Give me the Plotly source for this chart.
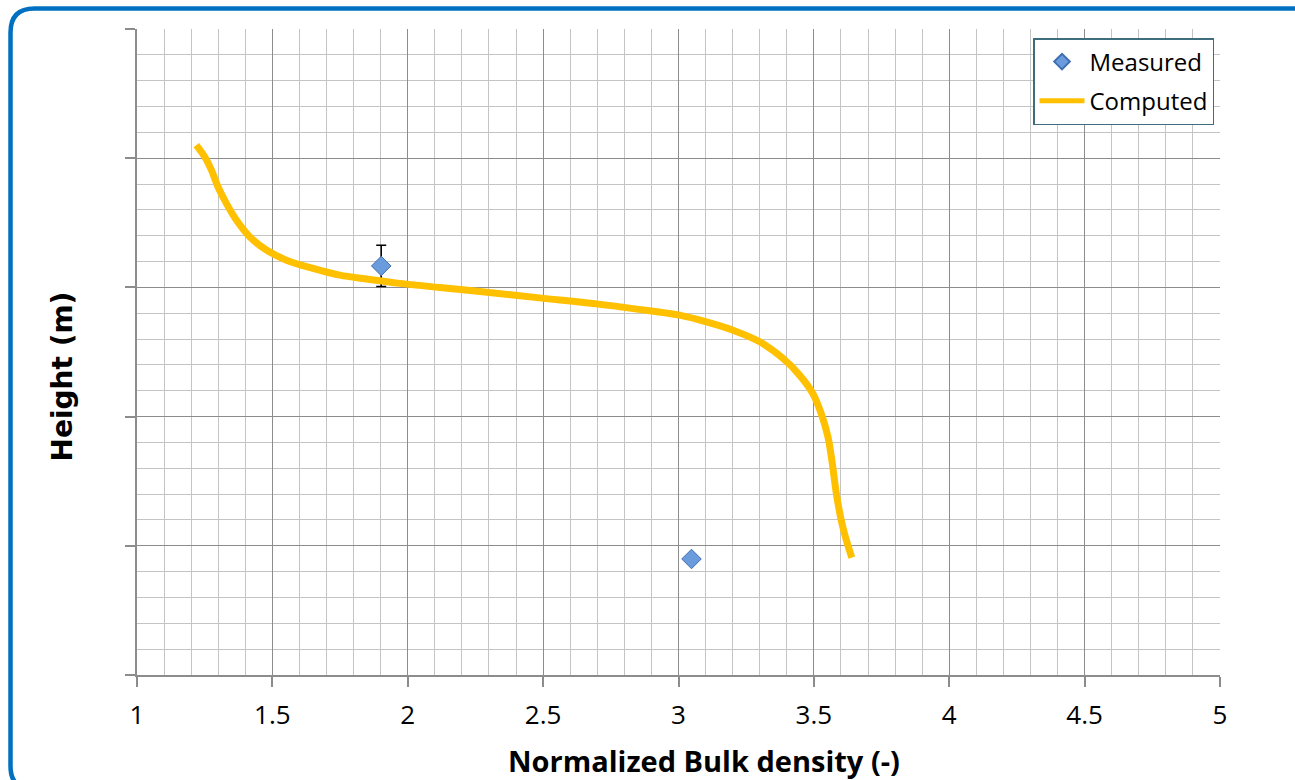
import plotly.graph_objects as go

# ---- data ----
measured_x = [1.902, 3.048]
measured_y = [3.166, 0.898]
measured_err = [0.16, 0.0]

computed_x = [1.219, 1.250, 1.275, 1.299, 1.330, 1.367, 1.416, 1.478, 1.552, 1.650,
              1.749, 1.847, 1.970, 2.241, 2.487, 2.733, 2.893, 3.004, 3.103, 3.201,
              3.300, 3.386, 3.447, 3.496, 3.527, 3.552, 3.568, 3.583, 3.601, 3.620,
              3.640]
computed_y = [4.102, 4.011, 3.908, 3.779, 3.650, 3.521, 3.392, 3.289, 3.211, 3.147,
              3.095, 3.065, 3.031, 2.974, 2.919, 2.863, 2.819, 2.785, 2.733, 2.669,
              2.579, 2.450, 2.321, 2.179, 2.024, 1.843, 1.637, 1.405, 1.198, 1.043,
              0.909]

x_ticks = [1, 1.5, 2, 2.5, 3, 3.5, 4, 4.5, 5]
x_tick_labels = ["1", "1.5", "2", "2.5", "3", "3.5", "4", "4.5", "5"]

# ---- layout geometry (pixels) ----
W, H = 1295, 780
ML, MR, MT, MB = 137, 75, 29, 105
PW, PH = W - ML - MR, H - MT - MB


def px(xp):
    return (xp - ML) / PW


def py(yp):
    return (H - MB - yp) / PH


FONT = "Open Sans"

fig = go.Figure()
fig.add_trace(go.Scatter(
    x=measured_x, y=measured_y, mode="markers", name="Measured",
    legendgroup="m",
    marker=dict(symbol="diamond", size=15, color="#6A9BDC",
                line=dict(color="#3F6FB0", width=1)),
    error_y=dict(type="data", array=measured_err, visible=True,
                 color="black", thickness=1.5, width=5),
))
fig.add_trace(go.Scatter(
    x=computed_x, y=computed_y, mode="lines", name="Computed",
    legendgroup="c",
    line=dict(color="#FFC000", width=7, shape="spline", smoothing=1),
))

# rounded outer border
x0, y0, x1, y1, r = 10.5, 8.5, 1310, 790, 24
path = (f"M {px(x0)},{py(y0 + r)} Q {px(x0)},{py(y0)} {px(x0 + r)},{py(y0)} "
        f"L {px(x1)},{py(y0)} L {px(x1)},{py(y1)} L {px(x0 + r)},{py(y1)} "
        f"Q {px(x0)},{py(y1)} {px(x0)},{py(y1 - r)} Z")

fig.update_layout(
    width=W, height=H,
    margin=dict(l=ML, r=MR, t=MT, b=MB, autoexpand=False),
    paper_bgcolor="white", plot_bgcolor="white",
    font=dict(family=FONT, color="black"),
    showlegend=True,
    legend=dict(x=px(1033), y=py(38), xanchor="left", yanchor="top",
                bgcolor="white", bordercolor="#3E6E7E", borderwidth=1.5,
                font=dict(family=FONT, size=24, color="black"),
                itemsizing="constant", itemwidth=45,
                traceorder="grouped", tracegroupgap=5),
    shapes=[dict(type="path", xref="paper", yref="paper", path=path,
                 line=dict(color="#0070C0", width=4.5), layer="above")],
    annotations=[
        dict(text="<b>Normalized Bulk density (-)</b>", xref="paper", yref="paper",
             x=px(703.5), y=py(760), xanchor="center", yanchor="middle",
             showarrow=False, font=dict(family=FONT, size=29, color="black")),
        dict(text="<b>Height (m)</b>", xref="paper", yref="paper",
             x=px(62), y=py(376.5), xanchor="center", yanchor="middle",
             textangle=-90, showarrow=False,
             font=dict(family="DejaVu Sans", size=28, color="black")),
    ],
)

fig.update_xaxes(
    range=[1, 5], tickmode="array", tickvals=x_ticks, ticktext=x_tick_labels,
    showgrid=True, gridcolor="#8C8C8C", gridwidth=1,
    minor=dict(dtick=0.1, showgrid=True, gridcolor="#C4C4C4", gridwidth=1, ticks=""),
    showline=True, linecolor="#8C8C8C", linewidth=1.5,
    ticks="outside", ticklen=10, tickcolor="#8C8C8C", tickwidth=1.5,
    tickfont=dict(family=FONT, size=26, color="black"), ticklabelstandoff=6,
    zeroline=False, fixedrange=True,
)
fig.update_yaxes(
    range=[0, 5], dtick=1, showticklabels=False,
    showgrid=True, gridcolor="#8C8C8C", gridwidth=1,
    minor=dict(dtick=0.2, showgrid=True, gridcolor="#C4C4C4", gridwidth=1, ticks=""),
    showline=True, linecolor="#8C8C8C", linewidth=1.5,
    ticks="outside", ticklen=10, tickcolor="#8C8C8C", tickwidth=1.5,
    zeroline=False, fixedrange=True,
)

fig.write_html("out.html",
               config={"displayModeBar": False},
               post_script="document.body.style.margin='0';"
                           "document.body.style.overflow='hidden';")
